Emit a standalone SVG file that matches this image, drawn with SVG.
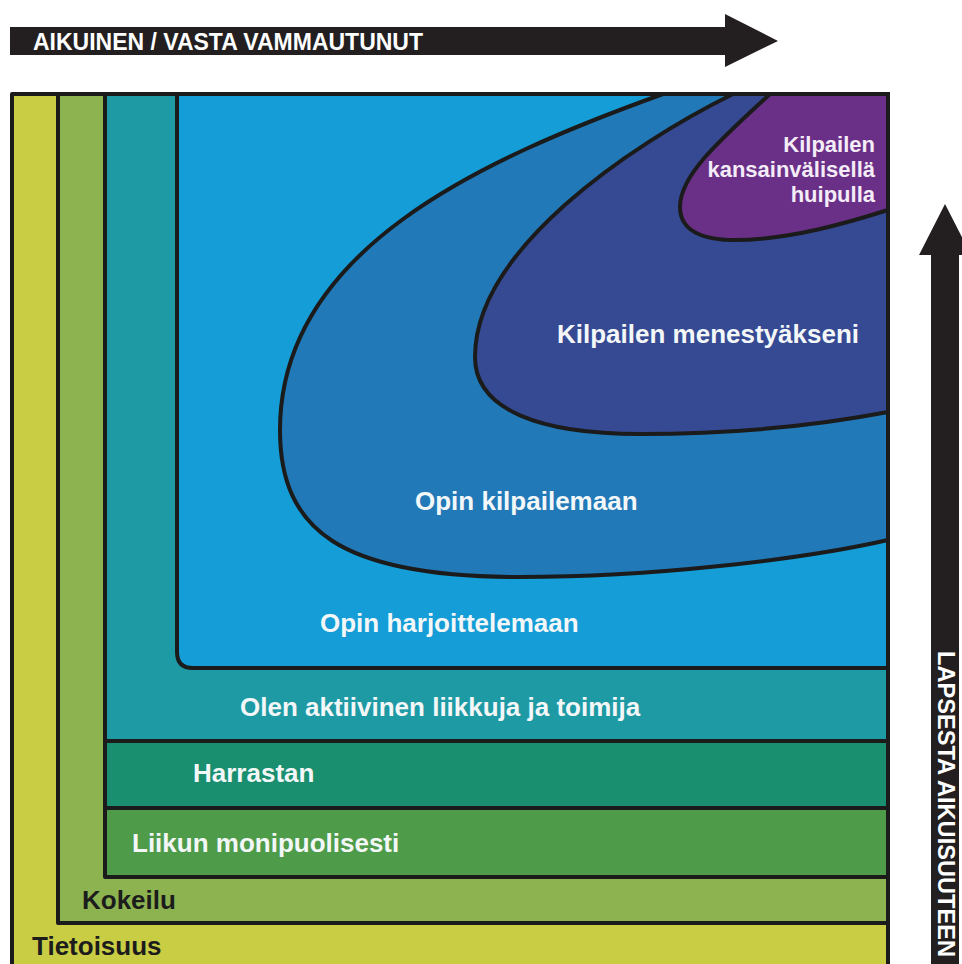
<svg xmlns="http://www.w3.org/2000/svg" width="962" height="964" viewBox="0 0 962 964">
<style>
.ln{stroke:#1b1b1b;stroke-width:4;stroke-linejoin:round}
.lbl{font-family:"Liberation Sans",Arial,sans-serif;font-weight:bold;font-size:26px;fill:#f3f7f8}
.dk{fill:#1c1c1c}
.sm{font-size:22px;fill:#f4ecf7}
.arr{fill:#231f20}
.at{font-family:"Liberation Sans",Arial,sans-serif;font-weight:bold;font-size:23px;fill:#ffffff}
</style>
<rect width="962" height="964" fill="#ffffff"/>
<g id="tietoisuus">
<rect x="12" y="94" width="876" height="900" fill="#c9cd44"/>
</g>
<g id="kokeilu">
<rect class="ln" x="58" y="94" width="830" height="829" fill="#8cb350"/>
</g>
<g id="olen-aktiivinen">
<rect class="ln" x="105" y="94" width="783" height="647" fill="#1e9aa5"/>
</g>
<g id="harrastan">
<rect class="ln" x="105" y="741" width="783" height="67" fill="#1a8f70"/>
</g>
<g id="liikun">
<rect class="ln" x="105" y="808" width="783" height="69" fill="#4e9b4a"/>
</g>
<g id="opin-harjoittelemaan">
<path class="ln" d="M177 94 V652 Q177 668 193 668 H888 V94 Z" fill="#149dd7"/>
</g>
<g id="opin-kilpailemaan">
<path class="ln" d="M663 94 C480 160 280 250 280 430 C280 530 340 577 520 577 C650 577 800 560 888 540 V94 Z" fill="#2179b8"/>
</g>
<g id="kilpailen-menestyakseni">
<path class="ln" d="M733 94 C630 145 475 250 475 357 C475 410 540 434 640 434 C740 434 820 425 888 412 V94 Z" fill="#364a94"/>
</g>
<g id="kilpailen-huipulla">
<path class="ln" d="M770 94 C720 140 680 175 680 207 C680 232 705 240 735 240 C790 240 850 222 888 210 V94 Z" fill="#6a2f87"/>
</g>
<rect class="ln" x="12" y="94" width="876" height="900" fill="none"/>
<g id="labels">
<text class="lbl sm" x="875" y="152" text-anchor="end">Kilpailen</text>
<text class="lbl sm" x="875" y="177" text-anchor="end">kansainvälisellä</text>
<text class="lbl sm" x="875" y="202" text-anchor="end">huipulla</text>
<text class="lbl" x="557" y="343">Kilpailen menestyäkseni</text>
<text class="lbl" x="415" y="510">Opin kilpailemaan</text>
<text class="lbl" x="320" y="632">Opin harjoittelemaan</text>
<text class="lbl" x="240" y="716">Olen aktiivinen liikkuja ja toimija</text>
<text class="lbl" x="193" y="782">Harrastan</text>
<text class="lbl" x="132" y="852">Liikun monipuolisesti</text>
<text class="lbl dk" x="82" y="909">Kokeilu</text>
<text class="lbl dk" x="32" y="955">Tietoisuus</text>
</g>
<g id="arrows">
<polygon class="arr" points="10,27 725,27 725,14 778,41 725,67 725,55 10,55"/>
<text class="at" x="33" y="50" textLength="390" lengthAdjust="spacingAndGlyphs">AIKUINEN / VASTA VAMMAUTUNUT</text>
<polygon class="arr" points="931,970 931,255 919,255 945,204 971,255 959,255 959,970"/>
<text class="at" transform="translate(938,651) rotate(90)" textLength="306" lengthAdjust="spacingAndGlyphs">LAPSESTA AIKUISUUTEEN</text>
</g>
</svg>
